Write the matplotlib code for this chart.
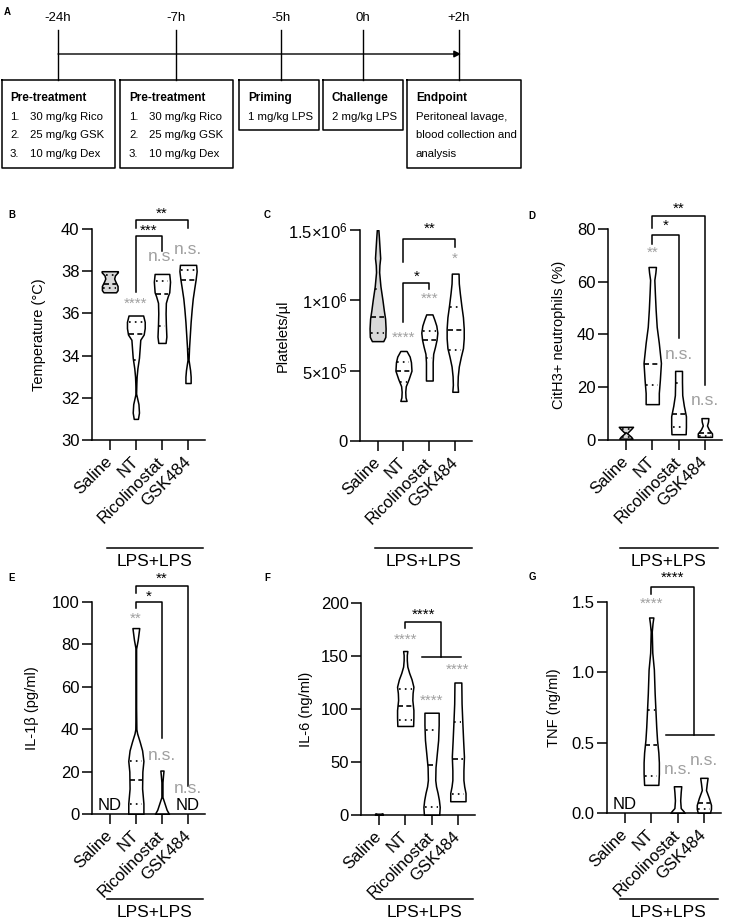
import numpy as np
import matplotlib.pyplot as plt

plt.rcParams['font.family'] = ['Liberation Sans', 'DejaVu Sans']
plt.rcParams['mathtext.fontset'] = 'custom'
plt.rcParams['mathtext.rm'] = 'Liberation Sans'
plt.rcParams['axes.linewidth'] = 1.1

W, H = 744, 921     # Tamanho da figura em pixels
cinza = '#a0a0a0'   # Cor das anotações em cinza
preench = '#d9d9d9' # Cor do violino Saline

grupos = ['Saline', 'NT', 'Ricolinostat', 'GSK484']

# --- B: TEMPERATURA ---
temp_y = [[37.0, 37.1, 37.3, 37.5, 37.65, 37.8, 37.95, 38.0],
          [31.0, 31.3, 31.7, 32.2, 32.7, 33.0, 33.4, 33.9, 34.4, 34.75, 35.0, 35.3, 35.6, 35.9],
          [34.6, 34.9, 35.5, 36.0, 36.5, 36.8, 37.0, 37.5, 37.87],
          [32.7, 33.0, 33.3, 33.8, 34.4, 35.0, 35.6, 36.2, 36.7, 37.2, 37.6, 38.0, 38.3]]
temp_w = [[0.24, 0.3, 0.3, 0.22, 0.17, 0.2, 0.31, 0.31],
          [0.08, 0.12, 0.1, 0.01, 0.02, 0.03, 0.06, 0.12, 0.15, 0.17, 0.3, 0.34, 0.34, 0.28],
          [0.14, 0.17, 0.15, 0.14, 0.15, 0.22, 0.28, 0.31, 0.28],
          [0.1, 0.1, 0.08, 0.02, 0.04, 0.07, 0.1, 0.14, 0.18, 0.24, 0.29, 0.33, 0.31]]
temp_med = [37.4, 35.0, 36.9, 37.6]
temp_q = [[37.2, 37.8], [33.8, 35.6], [35.4, 37.55], [34.3, 38.05]]
temp_sig = ['', '****', 'n.s.', 'n.s.']
temp_sig_y = [None, 36.45, 38.7, 39.05]
temp_barras = [(1, 2, 37.03, 39.65, 38.95, '***', 39.9),
               (1, 3, 40.03, 40.43, 40.03, '**', 40.72)]

# --- C: PLAQUETAS ---
plaq_y = [[7.1e5, 7.4e5, 8.0e5, 8.7e5, 9.3e5, 1.0e6, 1.1e6, 1.2e6, 1.25e6, 1.3e6, 1.36e6, 1.45e6, 1.5e6],
          [2.85e5, 3.1e5, 3.5e5, 3.9e5, 4.4e5, 5.0e5, 5.6e5, 6.0e5, 6.4e5],
          [4.3e5, 5.0e5, 5.6e5, 6.2e5, 6.7e5, 7.2e5, 7.7e5, 8.2e5, 8.6e5, 9.0e5],
          [3.5e5, 4.0e5, 4.6e5, 5.3e5, 6.0e5, 6.6e5, 7.3e5, 8.0e5, 8.8e5, 9.6e5, 1.05e6, 1.12e6, 1.19e6]]
plaq_w = [[0.22, 0.3, 0.31, 0.29, 0.24, 0.19, 0.11, 0.06, 0.07, 0.1, 0.08, 0.05, 0.03],
          [0.12, 0.08, 0.07, 0.09, 0.2, 0.31, 0.29, 0.24, 0.12],
          [0.13, 0.13, 0.13, 0.15, 0.22, 0.28, 0.31, 0.27, 0.2, 0.12],
          [0.11, 0.09, 0.1, 0.14, 0.22, 0.3, 0.33, 0.33, 0.3, 0.24, 0.18, 0.14, 0.13]]
plaq_med = [8.8e5, 4.95e5, 7.2e5, 7.9e5]
plaq_q = [[7.7e5, 1.08e6], [4.2e5, 5.6e5], [5.9e5, 7.8e5], [6.5e5, 9.55e5]]
plaq_sig = ['', '****', '***', '*']
plaq_sig_y = [None, 7.32e5, 1.01e6, 1.294e6]
plaq_barras = [(1, 2, 8.48e5, 1.125e6, 1.081e6, '*', 1.168e6),
               (1, 3, 1.275e6, 1.434e6, 1.381e6, '**', 1.512e6)]

# --- D: NEUTRÓFILOS CitH3+ ---
neut_y = [[0.5, 1.2, 2.6, 4.2, 5.0],
          [13.6, 17.8, 22.8, 29.2, 36.8, 42.9, 49.3, 55.7, 60.7, 63.5, 65.6],
          [2.2, 5.0, 9.0, 13.0, 17.0, 22.0, 26.2],
          [1.2, 2.5, 4.0, 5.5, 7.0, 8.3]]
neut_w = [[0.25, 0.2, 0.04, 0.2, 0.27],
          [0.25, 0.25, 0.29, 0.33, 0.25, 0.17, 0.13, 0.1, 0.08, 0.12, 0.14],
          [0.27, 0.28, 0.28, 0.2, 0.14, 0.13, 0.13],
          [0.27, 0.27, 0.15, 0.08, 0.12, 0.13]]
neut_med = [2.6, 29.0, 9.7, 2.8]
neut_q = [[1.2, 4.2], [21.0], [5.0, 21.5], [1.5]]
neut_sig = ['', '**', 'n.s.', 'n.s.']
neut_sig_y = [None, 70.9, 32.6, 14.8]
neut_barras = [(1, 2, 74.5, 77.9, 38.8, '*', 81.1),
               (1, 3, 80.2, 85.0, 20.85, '**', 87.8)]

# --- E: IL-1β ---
il1_y = [None,
         [0, 5, 12, 20, 25, 30, 34, 38, 40, 50, 65, 78, 82, 87.7],
         [0, 2, 5, 8, 15, 18, 20.5],
         None]
il1_w = [None,
         [0.29, 0.29, 0.24, 0.25, 0.29, 0.24, 0.15, 0.05, 0.02, 0.01, 0.01, 0.01, 0.07, 0.13],
         [0.27, 0.18, 0.1, 0.02, 0.02, 0.04, 0.06],
         None]
il1_med = [None, 16.0, None, None]
il1_q = [[], [4.5, 25.0], [], []]
il1_sig = ['', '**', 'n.s.', 'n.s.']
il1_sig_y = [None, 92.3, 27.8, 12.1]
il1_barras = [(1, 2, 97.0, 100.0, 35.7, '*', 102.4),
              (1, 3, 104.1, 107.7, 13.2, '**', 111.0)]

# --- F: IL-6 ---
il6_y = [[0, 0.6, 1.2],
         [84, 92, 99, 108.5, 115, 121, 128, 134, 140, 146, 151, 154.7],
         [0, 7.5, 14, 20.7, 27, 33, 45, 58, 70.7, 85, 96.5],
         [13, 20.7, 27, 33, 42, 55, 70, 86.8, 105, 125]]
il6_w = [[0.15, 0.05, 0.15],
         [0.3, 0.31, 0.31, 0.27, 0.28, 0.31, 0.24, 0.15, 0.08, 0.06, 0.06, 0.08],
         [0.29, 0.31, 0.28, 0.23, 0.17, 0.14, 0.15, 0.2, 0.25, 0.27, 0.27],
         [0.29, 0.29, 0.24, 0.21, 0.21, 0.23, 0.2, 0.17, 0.14, 0.13]]
il6_med = [None, 103, 47, 53]
il6_q = [[], [90, 119], [8, 80], [20, 88]]
il6_sig = ['', '****', '****', '****']
il6_sig_y = [None, 165, 107.8, 136.7]

# --- G: TNF ---
tnf_y = [None,
         [0.2, 0.28, 0.36, 0.43, 0.52, 0.61, 0.73, 0.85, 1.02, 1.14, 1.29, 1.35, 1.39],
         [0, 0.012, 0.035, 0.09, 0.15, 0.19],
         [0, 0.03, 0.057, 0.107, 0.163, 0.21, 0.25]]
tnf_w = [None,
         [0.27, 0.29, 0.29, 0.27, 0.22, 0.19, 0.16, 0.13, 0.1, 0.04, 0.02, 0.05, 0.08],
         [0.27, 0.23, 0.12, 0.1, 0.12, 0.14],
         [0.23, 0.27, 0.27, 0.19, 0.08, 0.11, 0.14]]
tnf_med = [None, 0.48, None, 0.07]
tnf_q = [[], [0.26, 0.73], [], [0.03]]
tnf_sig = ['', '****', 'n.s.', 'n.s.']
tnf_sig_y = [None, 1.484, 0.306, 0.37]


# --- FUNÇÕES ---
fig = plt.figure(figsize=(W / 100, H / 100), dpi=100)


def eixo(l, t, r, b):
    # Cria um eixo a partir da posição em pixels (esquerda, topo, direita, base)
    return fig.add_axes([l / W, 1 - b / H, (r - l) / W, (b - t) / H])


def violino(ax, x, ys, ws, med, quarts, cor):
    if ys is None:
        return
    ys = np.array(ys)
    ws = np.array(ws)
    ax.fill_betweenx(ys, x - ws, x + ws, facecolor=cor, edgecolor='k', linewidth=1.1, zorder=2)
    if med is not None:
        w = np.interp(med, ys, ws) * 0.9
        ax.plot([x - w, x + w], [med, med], color='k', lw=1.2, ls=(0, (3, 2)), zorder=3)
    for q in quarts:
        w = np.interp(q, ys, ws) * 0.8
        ax.plot([x - w, x + w], [q, q], color='k', lw=1.2, ls=(0, (1, 2.5)), zorder=3)


def formata(ax, ylim, yticks, ylabels, titulo, xlab):
    ax.set_xlim(-0.68, 3.65)
    ax.set_ylim(*ylim)
    ax.spines[['top', 'right']].set_visible(False)
    ax.set_xticks(range(4))
    ax.set_xticklabels(grupos, rotation=45, ha='right', va='center', rotation_mode='anchor', fontsize=12)
    ax.set_yticks(yticks)
    ax.set_yticklabels(ylabels, fontsize=12)
    ax.tick_params(axis='both', direction='out', length=7, width=1.1, pad=2)
    ax.tick_params(axis='x', pad=7)
    ax.set_ylabel(titulo, fontsize=10.5)
    ax.yaxis.set_label_coords(xlab, 0.5)


def anota(ax, textos, ys):
    for i, (t, y) in enumerate(zip(textos, ys)):
        if y is None:
            continue
        tam = 12.5 if t == 'n.s.' else 11
        ax.text(i, y, t, color=cinza, fontsize=tam, ha='center', va='center', clip_on=False)


def barras(ax, lista):
    for x1, x2, y1, ytop, y2, txt, ytxt in lista:
        ax.plot([x1, x1, x2, x2], [y1, ytop, ytop, y2], color='k', lw=1.1, clip_on=False)
        ax.text((x1 + x2) / 2, ytxt, txt, fontsize=11, ha='center', va='center', clip_on=False)


def painel(ax, ys, ws, med, q):
    for i in range(4):
        violino(ax, i, ys[i], ws[i], med[i], q[i], preench if i == 0 else 'white')


# --- PAINEL B ---
axB = eixo(92, 229, 205, 440)
painel(axB, temp_y, temp_w, temp_med, temp_q)
formata(axB, (30, 40), [30, 32, 34, 36, 38, 40], ['30', '32', '34', '36', '38', '40'],
        'Temperature (°C)', -0.41)
anota(axB, temp_sig, temp_sig_y)
barras(axB, temp_barras)

# --- PAINEL C ---
axC = eixo(360, 230, 472, 441)
painel(axC, plaq_y, plaq_w, plaq_med, plaq_q)
formata(axC, (0, 1.5e6), [0, 5e5, 1e6, 1.5e6],
        ['0', r'$\mathregular{5{\times}10^5}$', r'$\mathregular{1{\times}10^6}$', r'$\mathregular{1.5{\times}10^6}$'],
        'Platelets/µl', -0.63)
anota(axC, plaq_sig, plaq_sig_y)
barras(axC, plaq_barras)

# --- PAINEL D ---
axD = eixo(608, 229, 722, 440)
painel(axD, neut_y, neut_w, neut_med, neut_q)
formata(axD, (0, 80), [0, 20, 40, 60, 80], ['0', '20', '40', '60', '80'],
        'CitH3+ neutrophils (%)', -0.37)
anota(axD, neut_sig, neut_sig_y)
barras(axD, neut_barras)

# --- PAINEL E ---
axE = eixo(92, 602, 205, 814)
painel(axE, il1_y, il1_w, il1_med, il1_q)
formata(axE, (0, 100), [0, 20, 40, 60, 80, 100], ['0', '20', '40', '60', '80', '100'],
        'IL-1β (pg/ml)', -0.47)
anota(axE, il1_sig, il1_sig_y)
barras(axE, il1_barras)
for i in [0, 3]:
    axE.text(i, 4.2, 'ND', fontsize=12, ha='center', va='center')

# --- PAINEL F ---
axF = eixo(361, 603, 475, 815)
painel(axF, il6_y, il6_w, il6_med, il6_q)
formata(axF, (0, 200), [0, 50, 100, 150, 200], ['0', '50', '100', '150', '200'],
        'IL-6 (ng/ml)', -0.42)
anota(axF, il6_sig, il6_sig_y)
axF.plot([1, 1, 2.37, 2.37], [176, 182.3, 182.3, 148.7], color='k', lw=1.1, clip_on=False)
axF.plot([1.62, 3.12], [148.7, 148.7], color='k', lw=1.1, clip_on=False)
axF.text(1.69, 189.3, '****', fontsize=11, ha='center', va='center', clip_on=False)

# --- PAINEL G ---
axG = eixo(607, 602, 721, 813)
painel(axG, tnf_y, tnf_w, tnf_med, tnf_q)
formata(axG, (0, 1.5), [0, 0.5, 1.0, 1.5], ['0.0', '0.5', '1.0', '1.5'],
        'TNF (ng/ml)', -0.40)
anota(axG, tnf_sig, tnf_sig_y)
axG.plot([1, 1, 2.61, 2.61], [1.555, 1.605, 1.605, 0.555], color='k', lw=1.1, clip_on=False)
axG.plot([1.57, 3.4], [0.555, 0.555], color='k', lw=1.1, clip_on=False)
axG.text(1.8, 1.669, '****', fontsize=11, ha='center', va='center', clip_on=False)
axG.text(0, 0.063, 'ND', fontsize=12, ha='center', va='center')

# --- PAINEL A (linha do tempo) e rótulos, em pixels ---
ov = fig.add_axes([0, 0, 1, 1])
ov.set_xlim(0, W)
ov.set_ylim(H, 0)
ov.axis('off')

tempos = ['-24h', '-7h', '-5h', '0h', '+2h']
tempos_x = [58, 176, 281, 363, 459]
for t, x in zip(tempos, tempos_x):
    ov.text(x, 18, t, fontsize=9.5, ha='center', va='center')
    ov.plot([x, x], [30, 80], color='k', lw=1.0)
ov.annotate('', xy=(461, 54), xytext=(58, 54),
            arrowprops=dict(arrowstyle='-|>', color='k', lw=1.0, mutation_scale=10, shrinkA=0, shrinkB=0))

caixas = [(2, 115, 168), (120, 233, 168), (239, 319, 130), (323, 403, 130), (407, 521, 168)]
for x0, x1, y1 in caixas:
    ov.plot([x0, x1, x1, x0, x0], [80, 80, y1, y1, 80], color='k', lw=1.1)

titulos = ['Pre-treatment', 'Pre-treatment', 'Priming', 'Challenge', 'Endpoint']
titulos_x = [10, 129, 248, 332, 416]
for t, x in zip(titulos, titulos_x):
    ov.text(x, 98, t, fontsize=8.5, fontweight='bold', ha='left', va='center')

doses = ['30 mg/kg Rico', '25 mg/kg GSK', '10 mg/kg Dex']
for x in [10, 129]:
    for k, d in enumerate(doses):
        ov.text(x, 117 + 18.5 * k, f'{k + 1}.', fontsize=8.2, ha='left', va='center')
        ov.text(x + 20, 117 + 18.5 * k, d, fontsize=8.2, ha='left', va='center')
ov.text(248, 117, '1 mg/kg LPS', fontsize=8.2, ha='left', va='center')
ov.text(332, 117, '2 mg/kg LPS', fontsize=8.2, ha='left', va='center')
for k, t in enumerate(['Peritoneal lavage,', 'blood collection and', 'analysis']):
    ov.text(416, 117 + 18.5 * k, t, fontsize=8.2, ha='left', va='center')

# Letras dos painéis
for letra, x, y in [('A', 7, 12), ('B', 12, 215), ('C', 267, 215), ('D', 532, 216),
                    ('E', 12, 578), ('F', 267, 578), ('G', 532, 577)]:
    ov.text(x, y, letra, fontsize=7, fontweight='bold', ha='center', va='center')

# Barras LPS+LPS
for x0, x1, yl in [(107, 203, 548), (375, 472, 548), (620, 718, 548),
                   (107, 203, 899), (376, 473, 899), (620, 718, 899)]:
    ov.plot([x0, x1], [yl, yl], color='k', lw=1.1)
    ov.text((x0 + x1) / 2, yl + 13.5, 'LPS+LPS', fontsize=12.5, ha='center', va='center')

fig.savefig('out.png', dpi=100)
